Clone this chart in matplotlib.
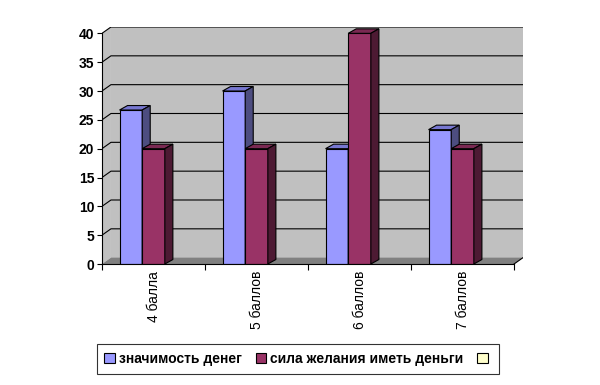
import matplotlib
matplotlib.use("Agg")
import matplotlib.pyplot as plt
from matplotlib.patches import Polygon, Rectangle, Patch

# data (percent of answers)
categories = ["4 балла", "5 баллов", "6 баллов", "7 баллов"]
znachimost = [26.7, 30, 20, 23.3]
sila_zhelaniya = [20, 20, 40, 20]
series_names = ["значимость денег", "сила желания иметь деньги", ""]

plt.rcParams['font.family'] = ['Liberation Sans', 'DejaVu Sans']

# 3d look (data units)
DX = 0.087      # wall depth, x
DY = 1.1        # wall depth, y
BDX = 0.078     # bar depth, x
BDY = 0.78      # bar depth, y
W = 0.22        # bar width

blue = ("#9999FF", "#7777D0", "#4D4D80")
wine = ("#993366", "#7A2952", "#4D1A33")

fig = plt.figure(figsize=(6, 3.85), dpi=100)
ax = fig.add_axes([102 / 600, 121 / 385, 421 / 600, 237 / 385])
ax.set_xlim(-0.5, 3.5 + DX)
ax.set_ylim(0, 40 + DY)

# walls and floor
ax.add_patch(Rectangle((-0.5 + DX, DY), 4, 40, facecolor="#C0C0C0", edgecolor="none", zorder=0))
ax.add_patch(Polygon([(-0.5, 0), (-0.5 + DX, DY), (-0.5 + DX, 40 + DY), (-0.5, 40)],
                     closed=True, facecolor="#C0C0C0", edgecolor="none", zorder=0))
ax.add_patch(Polygon([(-0.5, 0), (3.5, 0), (3.5 + DX, DY), (-0.5 + DX, DY)],
                     closed=True, facecolor="#808080", edgecolor="none", zorder=0.5))
for v in range(5, 41, 5):
    ax.plot([-0.5, -0.5 + DX, 3.5 + DX], [v, v + DY, v + DY], color="black", lw=0.8, zorder=1)
ax.plot([3.5, 3.5 + DX], [0, DY], color="black", lw=0.8, zorder=1)


def bar3d(x, h, cols, z):
    rects = ax.bar([x], [h], width=W, color=cols[0], edgecolor="black", linewidth=0.8, zorder=z)
    r = rects[0]
    x0, x1 = r.get_x(), r.get_x() + r.get_width()
    top = Polygon([(x0, h), (x0 + BDX, h + BDY), (x1 + BDX, h + BDY), (x1, h)], closed=True,
                  facecolor=cols[1], edgecolor="black", linewidth=0.8, zorder=z)
    side = Polygon([(x1, 0), (x1 + BDX, BDY), (x1 + BDX, h + BDY), (x1, h)], closed=True,
                   facecolor=cols[2], edgecolor="black", linewidth=0.8, zorder=z)
    ax.add_patch(top)
    ax.add_patch(side)


for i in range(len(categories)):
    bar3d(i - 0.22, znachimost[i], blue, 2 + i * 2)
    bar3d(i + 0.0, sila_zhelaniya[i], wine, 3 + i * 2)

# axes
for s in ["top", "right"]:
    ax.spines[s].set_visible(False)
ax.spines["left"].set_bounds(0, 40)
ax.spines["bottom"].set_bounds(-0.5, 3.5)
ax.spines["left"].set_zorder(20)
ax.spines["bottom"].set_zorder(20)

ax.set_yticks(range(0, 41, 5))
ax.tick_params(axis="y", length=3.5, width=0.8, pad=2, labelsize=10)
for t in ax.get_yticklabels():
    t.set_fontweight("bold")

ax.set_xticks(range(len(categories)))
ax.set_xticklabels(categories, rotation=90, fontsize=10)
ax.set_xticks([-0.5, 0.5, 1.5, 2.5, 3.5], minor=True)
ax.tick_params(axis="x", which="major", length=0, pad=5)
ax.tick_params(axis="x", which="minor", length=4, width=0.8)

handles = [Patch(facecolor=blue[0], edgecolor="black", linewidth=0.8),
           Patch(facecolor=wine[0], edgecolor="black", linewidth=0.8),
           Patch(facecolor="#FFFFCC", edgecolor="black", linewidth=0.8)]
leg = fig.legend(handles, series_names, loc="center", bbox_to_anchor=(298 / 600, 1 - 359 / 385),
                 ncol=3, frameon=True, fancybox=False, edgecolor="black",
                 prop={"weight": "bold", "size": 10}, handlelength=0.75, handleheight=0.75,
                 handletextpad=0.3, columnspacing=1.0, borderpad=0.55)
leg.get_frame().set_linewidth(0.8)

fig.savefig("out.png", dpi=100)
